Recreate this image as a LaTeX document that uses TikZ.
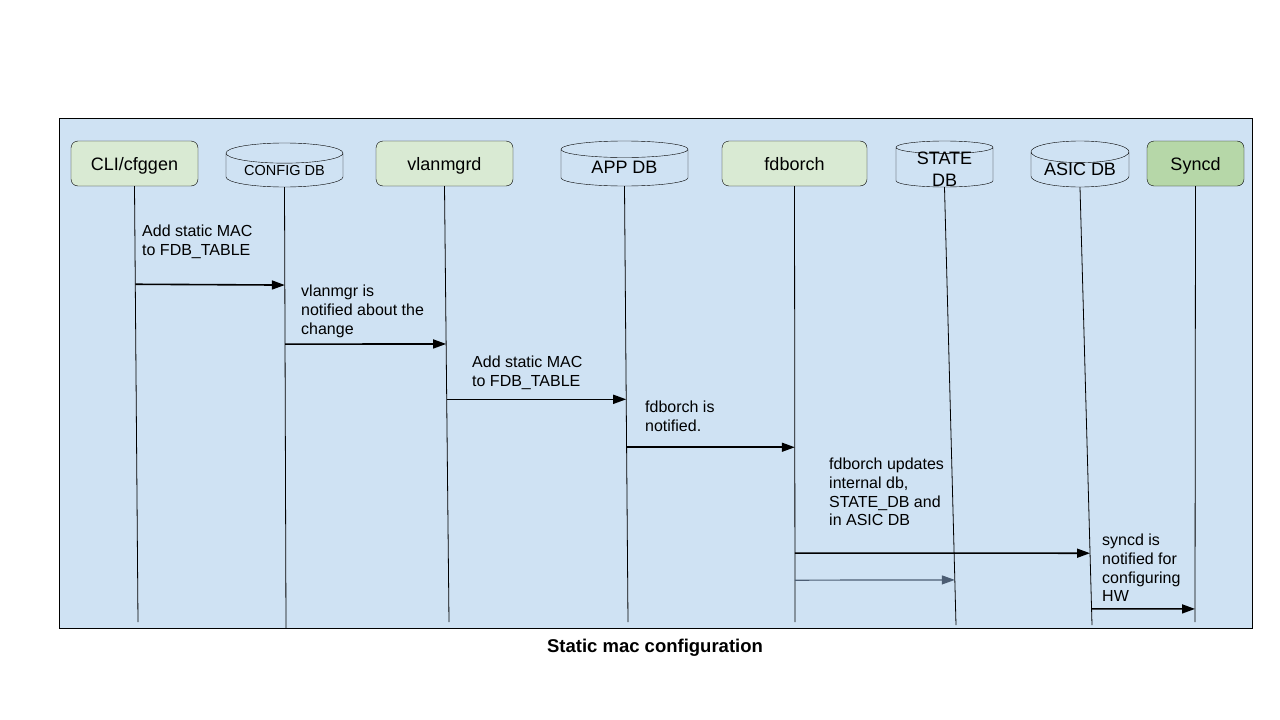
\documentclass[tikz,border=0pt]{standalone}
\usepackage{fontspec}
\setmainfont{Liberation Sans}
\usetikzlibrary{shapes.geometric,arrows.meta,calc}
\definecolor{lblue}{HTML}{CFE2F3}
\definecolor{lgreen}{HTML}{D9EAD3}
\definecolor{mgreen}{HTML}{B6D7A8}
\definecolor{slate}{HTML}{4C5D73}

\begin{document}
\begin{tikzpicture}[x=1pt,y=-1pt,
proc/.style={draw,rounded corners=7pt,fill=lgreen,inner sep=0pt,
  text height=13pt,text depth=0pt,font=\fontsize{18}{22}\selectfont},
db/.style={draw,cylinder,shape border rotate=90,shape aspect=.25,anchor=shape center,
  fill=lblue,inner sep=0pt,font=\fontsize{18}{22}\selectfont},
life/.style={line width=0.8pt},
msg/.style={line width=1.6pt,-{Triangle[length=13pt,width=9pt]}},
note/.style={align=left,anchor=north west,inner sep=0pt,
  font=\fontsize{16}{18.7}\selectfont}]
\path[fill=white] (0,0) rectangle (1280,720);
\draw[fill=lblue,line width=0.8pt] (59,118) rectangle (1252,628);

% header row
\node[proc,minimum width=127pt,minimum height=45pt] (cli) at (134.5,163.5) {CLI/cfggen};
\node[db,minimum width=117pt,minimum height=44pt,font=\fontsize{14.5}{17}\selectfont] (cfg) at (284.5,165) {CONFIG DB};
\node[db,minimum width=127pt,minimum height=45pt] (app) at (624.5,163.5) {APP DB};
\node[proc,minimum width=137pt,minimum height=45pt] (vlan) at (444.5,163.5) {vlanmgrd};
\node[proc,minimum width=145pt,minimum height=45pt] (fdb) at (794.5,163.5) {fdborch};
\node[db,minimum width=97pt,minimum height=46pt,shape aspect=.3] (state) at (944.5,164) {\phantom{ASIC}};
\node[db,minimum width=98pt,minimum height=46pt,shape aspect=.3] (asic) at (1080,164) {ASIC DB};
\node[proc,fill=mgreen,minimum width=97pt,minimum height=45pt] (sync) at (1195.5,163.5) {Syncd};
\node[font=\fontsize{18}{22}\selectfont,align=center,inner sep=0pt] (stateT) at ($(state.shape center)+(0,5)$) {STATE\\DB};

% lifelines
\foreach \n/\x/\y in {cli/138/622,cfg/286/628,vlan/449/622,app/628/622,
  fdb/795/622,state/956/625,asic/1092/625,sync/1195/622}
  \draw[life] (\n.south) -- (\x,\y) coordinate (\n E);

% messages
\draw[msg] ($(cli.south)!.225!(cliE)$) -- ($(cfg.south)!.222!(cfgE)$);
\draw[msg] ($(cfg.south)!.356!(cfgE)$) -- ($(vlan.south)!.362!(vlanE)$);
\draw[msg] ($(vlan.south)!.489!(vlanE)$) -- ($(app.south)!.489!(appE)$);
\draw[msg] ($(app.south)!.599!(appE)$) -- ($(fdb.south)!.599!(fdbE)$);
\draw[msg] ($(fdb.south)!.842!(fdbE)$) -- ($(asic.south)!.836!(asicE)$);
\draw[msg,slate,line width=1.2pt] ($(fdb.south)!.904!(fdbE)$) -- ($(state.south)!.897!(stateE)$);
\draw[msg] ($(asic.south)!.963!(asicE)$) -- ($(sync.south)!.970!(syncE)$);

% notes
\node[note] (n1) at (142,225) {Add static MAC\\to FDB\_TABLE};
\node[note] (n2) at (301,285) {vlanmgr is\\notified about the\\change};
\node[note] (n3) at (472,356) {Add static MAC\\to FDB\_TABLE};
\node[note] (n4) at (645,401) {fdborch is\\notified.};
\node[note] (n5) at (829,458) {fdborch updates\\internal db,\\STATE\_DB and\\in ASIC DB};
\node[note] (n6) at (1102,534) {syncd is\\notified for\\configuring\\HW};

\node[font=\bfseries\fontsize{18.5}{22}\selectfont] (title) at (655,648) {Static mac configuration};
\end{tikzpicture}
\end{document}
